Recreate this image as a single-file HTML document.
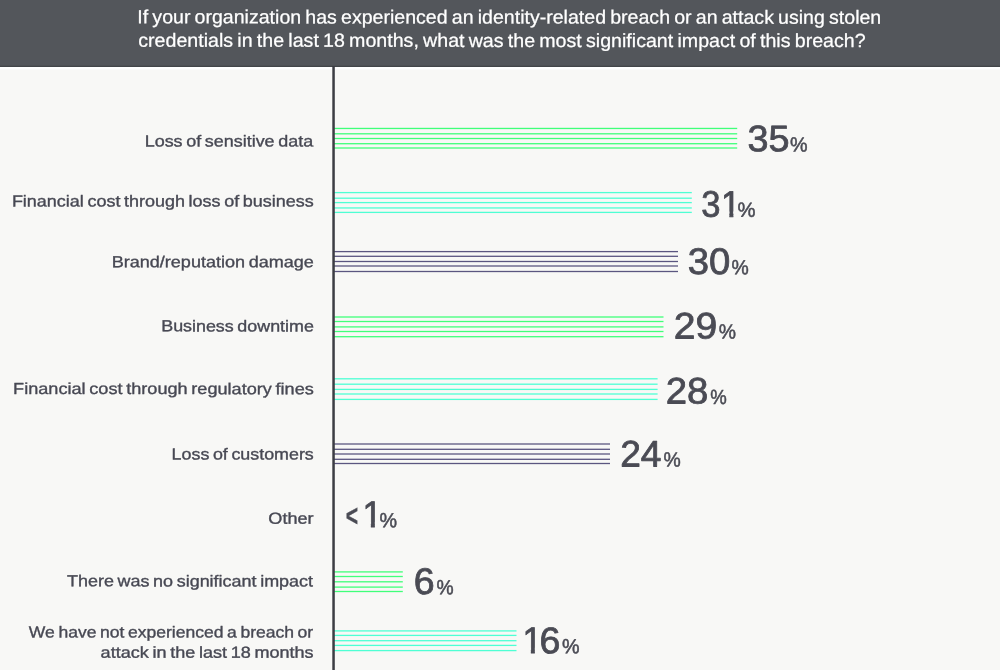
<!DOCTYPE html>
<html lang="en">
<head>
<meta charset="utf-8">
<title>Impact of identity-related breach</title>
<style>
html,body{margin:0;padding:0;background:#f8f8f6;}
body{width:1000px;height:670px;overflow:hidden;position:relative;font-family:"Liberation Sans",sans-serif;}
svg{position:absolute;left:0;top:0;display:block;}
text{font-family:"Liberation Sans",sans-serif;stroke-linejoin:round;text-rendering:geometricPrecision;}
.title text{fill:#ffffff;font-size:19.0px;word-spacing:-1.2px;stroke:#ffffff;stroke-width:0.25px;}
.labels text{fill:#474853;font-size:16.0px;word-spacing:-1.2px;stroke:#474853;stroke-width:0.35px;}
.nums text{fill:#4a4b54;stroke:#4a4b54;}
.nums .d{font-size:37.0px;stroke-width:0.8px;}
.nums .p{font-size:20.5px;stroke-width:0.5px;}
.nums .lt{font-size:30px;font-weight:bold;stroke-width:0.3px;}
</style>
</head>
<body>
<svg width="1000" height="670" viewBox="0 0 1000 670">
<rect x="0" y="0" width="1000" height="670" fill="#f8f8f6"/>
<rect x="0" y="0" width="1000" height="66" fill="#53565b"/>
<rect x="0" y="65.7" width="1000" height="1.3" fill="#43464a"/>
<rect x="0" y="67" width="1000" height="2" fill="#ffffff"/>
<rect x="0" y="69" width="1000" height="1" fill="#fbfbfa"/>

<g class="title">
<text transform="translate(137.30 23.31) rotate(0.03) scale(1.0292 1.0000)">If your organization has experienced an identity-related breach or an attack using stolen</text>
<text transform="translate(138.28 46.71) rotate(0.03) scale(1.0324 1.0000)">credentials in the last 18 months, what was the most significant impact of this breach?</text>
</g>
<g class="bars">
<rect x="334" y="127.80" width="403.2" height="1.3" fill="#40ff7a"/>
<rect x="334" y="133.15" width="403.2" height="1.3" fill="#40ff7a"/>
<rect x="334" y="137.85" width="403.2" height="1.3" fill="#40ff7a"/>
<rect x="334" y="143.05" width="403.2" height="1.3" fill="#40ff7a"/>
<rect x="334" y="147.35" width="403.2" height="1.3" fill="#40ff7a"/>
<rect x="334" y="191.95" width="357.8" height="1.3" fill="#4fffd4"/>
<rect x="334" y="197.55" width="357.8" height="1.3" fill="#4fffd4"/>
<rect x="334" y="201.95" width="357.8" height="1.3" fill="#4fffd4"/>
<rect x="334" y="207.30" width="357.8" height="1.3" fill="#4fffd4"/>
<rect x="334" y="211.75" width="357.8" height="1.3" fill="#4fffd4"/>
<rect x="334" y="250.95" width="344.0" height="1.3" fill="#5b5680"/>
<rect x="334" y="255.65" width="344.0" height="1.3" fill="#5b5680"/>
<rect x="334" y="260.85" width="344.0" height="1.3" fill="#5b5680"/>
<rect x="334" y="265.35" width="344.0" height="1.3" fill="#5b5680"/>
<rect x="334" y="270.85" width="344.0" height="1.3" fill="#5b5680"/>
<rect x="334" y="316.35" width="329.5" height="1.3" fill="#40ff7a"/>
<rect x="334" y="320.85" width="329.5" height="1.3" fill="#40ff7a"/>
<rect x="334" y="326.25" width="329.5" height="1.3" fill="#40ff7a"/>
<rect x="334" y="330.85" width="329.5" height="1.3" fill="#40ff7a"/>
<rect x="334" y="336.05" width="329.5" height="1.3" fill="#40ff7a"/>
<rect x="334" y="378.15" width="323.6" height="1.3" fill="#4fffd4"/>
<rect x="334" y="383.55" width="323.6" height="1.3" fill="#4fffd4"/>
<rect x="334" y="388.75" width="323.6" height="1.3" fill="#4fffd4"/>
<rect x="334" y="393.35" width="323.6" height="1.3" fill="#4fffd4"/>
<rect x="334" y="398.75" width="323.6" height="1.3" fill="#4fffd4"/>
<rect x="334" y="443.35" width="276.0" height="1.3" fill="#5b5680"/>
<rect x="334" y="448.65" width="276.0" height="1.3" fill="#5b5680"/>
<rect x="334" y="453.35" width="276.0" height="1.3" fill="#5b5680"/>
<rect x="334" y="458.65" width="276.0" height="1.3" fill="#5b5680"/>
<rect x="334" y="462.85" width="276.0" height="1.3" fill="#5b5680"/>
<rect x="334" y="571.25" width="68.8" height="1.3" fill="#40ff7a"/>
<rect x="334" y="575.85" width="68.8" height="1.3" fill="#40ff7a"/>
<rect x="334" y="581.15" width="68.8" height="1.3" fill="#40ff7a"/>
<rect x="334" y="586.45" width="68.8" height="1.3" fill="#40ff7a"/>
<rect x="334" y="590.85" width="68.8" height="1.3" fill="#40ff7a"/>
<rect x="334" y="630.25" width="182.5" height="1.3" fill="#4fffd4"/>
<rect x="334" y="634.75" width="182.5" height="1.3" fill="#4fffd4"/>
<rect x="334" y="640.05" width="182.5" height="1.3" fill="#4fffd4"/>
<rect x="334" y="644.75" width="182.5" height="1.3" fill="#4fffd4"/>
<rect x="334" y="649.95" width="182.5" height="1.3" fill="#4fffd4"/>
</g>
<rect x="332.3" y="66" width="2.5" height="604" fill="#3c3d44"/>
<g class="labels">
<text transform="translate(144.70 146.46) rotate(0.03) scale(1.1207 1.0000)">Loss of sensitive data</text>
<text transform="translate(11.90 206.42) rotate(0.03) scale(1.1229 1.0000)">Financial cost through loss of business</text>
<text transform="translate(111.69 267.25) rotate(0.03) scale(1.1271 1.0000)">Brand/reputation damage</text>
<text transform="translate(161.21 331.36) rotate(0.03) scale(1.1171 1.0000)">Business downtime</text>
<text transform="translate(13.09 394.02) rotate(0.03) scale(1.1323 1.0000)">Financial cost through regulatory fines</text>
<text transform="translate(171.61 459.46) rotate(0.03) scale(1.1157 1.0000)">Loss of customers</text>
<text transform="translate(268.35 523.79) rotate(0.03) scale(1.1287 1.0000)">Other</text>
<text transform="translate(66.98 586.34) rotate(0.03) scale(1.1219 1.0000)">There was no significant impact</text>
<text transform="translate(28.83 637.43) rotate(0.03) scale(1.0964 1.0000)">We have not experienced a breach or</text>
<text transform="translate(100.62 657.64) rotate(0.03) scale(1.1281 1.0000)">attack in the last 18 months</text>
</g>
<defs><clipPath id="one" clipPathUnits="userSpaceOnUse"><path d="M-5 -45H40V-5.16H13.02V3H8.85V-5.16H-5Z"/></clipPath></defs>
<g class="nums">
<g>
<text class="d" transform="translate(747.60 151.29) rotate(0.03) scale(1.0203 1.0000)">35</text>
<text class="p" transform="translate(789.92 151.45) rotate(0.03) scale(0.9628 1.0000)">%</text>
</g>
<g>
<text class="d" transform="translate(701.19 216.70) rotate(0.03) scale(0.9337 1.0000)">3</text>
<text class="d" clip-path="url(#one)" transform="translate(720.97 216.70) rotate(0.03) scale(0.9500 1)">1</text>
<text class="p" transform="translate(737.41 216.85) rotate(0.03) scale(0.9860 1.0000)">%</text>
</g>
<g>
<text class="d" transform="translate(687.68 274.09) rotate(0.03) scale(1.0350 1.0000)">30</text>
<text class="p" transform="translate(731.53 274.25) rotate(0.03) scale(0.9454 1.0000)">%</text>
</g>
<g>
<text class="d" transform="translate(673.77 338.39) rotate(0.03) scale(1.0568 1.0000)">29</text>
<text class="p" transform="translate(718.63 338.55) rotate(0.03) scale(0.9454 1.0000)">%</text>
</g>
<g>
<text class="d" transform="translate(665.80 403.39) rotate(0.03) scale(1.0353 1.0000)">28</text>
<text class="p" transform="translate(710.25 403.55) rotate(0.03) scale(0.9048 1.0000)">%</text>
</g>
<g>
<text class="d" transform="translate(620.14 466.39) rotate(0.03) scale(1.0043 1.0000)">24</text>
<text class="p" transform="translate(663.53 466.55) rotate(0.03) scale(0.9454 1.0000)">%</text>
</g>
<g>
<text class="lt" transform="translate(345.79 526.08) rotate(0.03) scale(0.7059 1.0182)">&lt;</text>
<text class="d" clip-path="url(#one)" transform="translate(362.47 527.10) rotate(0.03) scale(0.9500 1)">1</text>
<text class="p" transform="translate(379.52 527.25) rotate(0.03) scale(0.9628 1.0000)">%</text>
</g>
<g>
<text class="d" transform="translate(413.63 594.10) rotate(0.03) scale(1.0143 1.0000)">6</text>
<text class="p" transform="translate(436.43 594.25) rotate(0.03) scale(0.9396 1.0000)">%</text>
</g>
<g>
<text class="d" clip-path="url(#one)" transform="translate(522.47 653.00) rotate(0.03) scale(0.9500 1)">1</text>
<text class="d" transform="translate(539.53 653.20) rotate(0.03) scale(1.0143 1.0000)">6</text>
<text class="p" transform="translate(561.92 653.35) rotate(0.03) scale(0.9628 1.0000)">%</text>
</g>
</g>
</svg>
</body>
</html>
